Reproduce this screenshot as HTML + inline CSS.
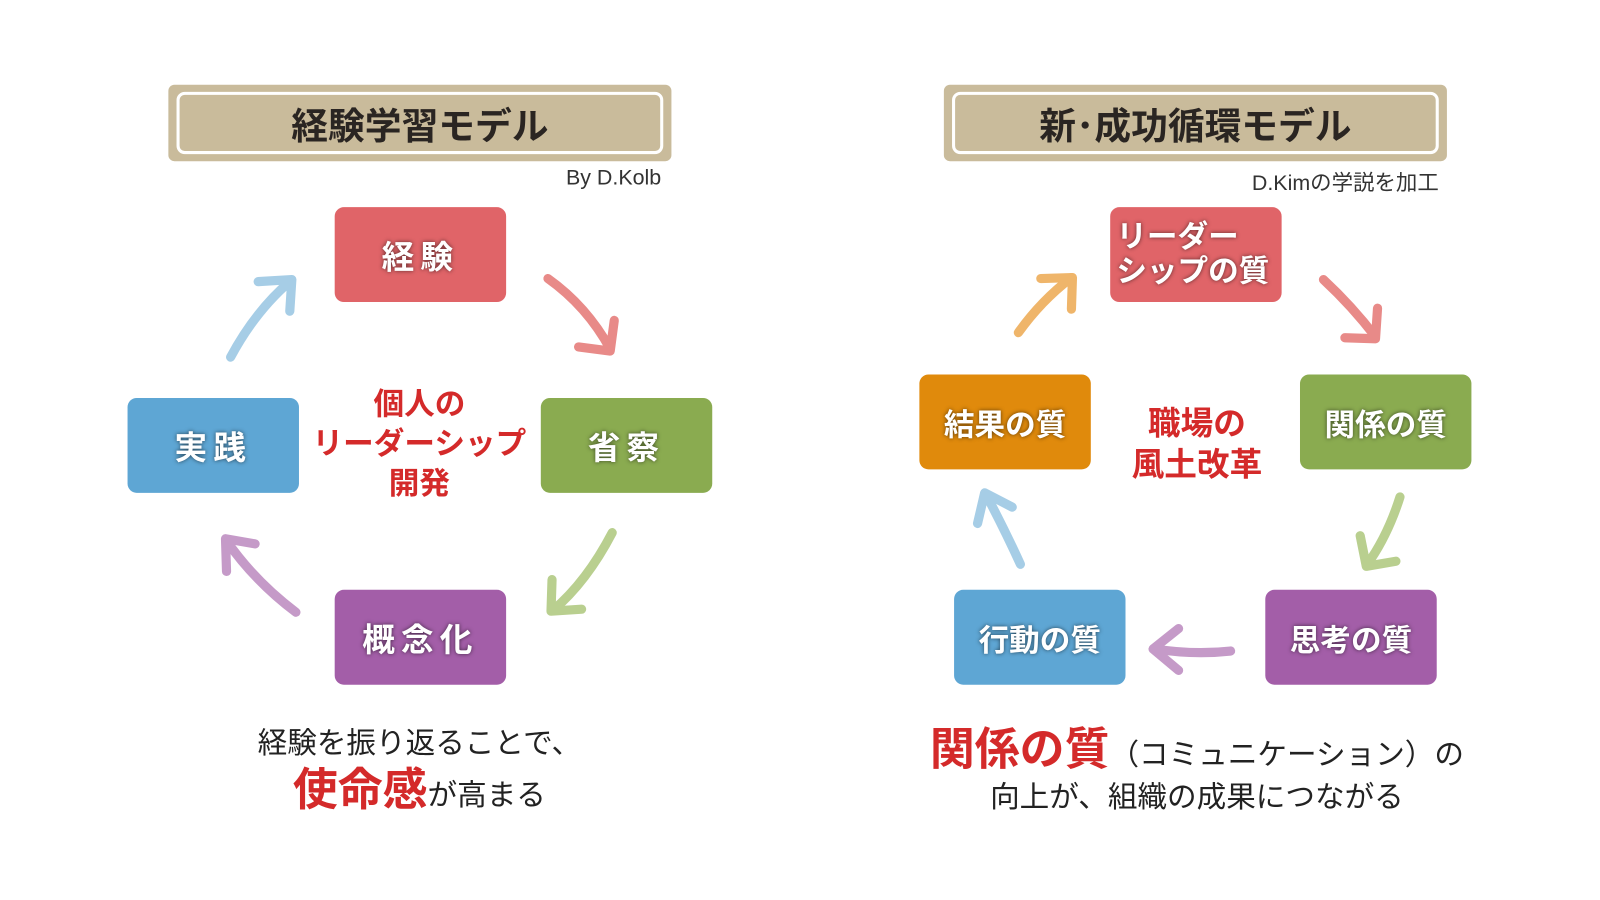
<!DOCTYPE html>
<html><head><meta charset="utf-8"><style>
body{margin:0;width:1600px;height:900px;background:#fff;position:relative;overflow:hidden;font-family:"Liberation Sans","Noto Sans CJK JP",sans-serif}
#w{position:absolute;left:0;top:0;width:1568px;height:882px;transform:scale(1.0204);transform-origin:0 0}
.t{position:absolute;background:#c9bb9b;border-radius:6px}
.t div{position:absolute;left:8px;top:7px;right:8px;bottom:7px;border:3px solid #fff;border-radius:8px;display:flex;align-items:center;justify-content:center;font-size:36px;font-weight:bold;color:#2a2522}
.b{position:absolute;width:168px;height:93px;border-radius:9px;color:#fff;font-weight:bold;font-size:32px;display:flex;align-items:center;justify-content:center;text-shadow:0 0 4px rgba(0,0,0,.6);letter-spacing:6px}
.r{background:#e06468}.g{background:#8aab50}.p{background:#a35ea8}.bl{background:#5ea6d4}.o{background:#e08a0c}
.q{letter-spacing:0;font-size:30px}
.c{position:absolute;color:#d42a2a;font-weight:bold;text-align:center;font-size:30px;line-height:39px}
.s{position:absolute;font-size:21px;color:#333}
.bt{position:absolute;text-align:center;color:#222;font-size:29px}
</style></head><body><div id="w">
<div class="t" style="left:165px;top:83px;width:493px;height:75px"><div>経験学習モデル</div></div>
<div class="t" style="left:925px;top:83px;width:493px;height:75px"><div>新･成功循環モデル</div></div>
<div class="s" style="right:920px;top:163px">By D.Kolb</div>
<div class="s" style="right:158px;top:163px">D.Kimの学説を加工</div>

<div class="b r" style="left:328px;top:203px">経験</div>
<div class="b g" style="left:530px;top:390px">省察</div>
<div class="b p" style="left:328px;top:578px">概念化</div>
<div class="b bl" style="left:125px;top:390px">実践</div>
<div class="c" style="left:290px;width:242px;top:377px">個人の<br>リーダーシップ<br>開発</div>

<div class="b r q" style="left:1088px;top:203px;line-height:34px;justify-content:flex-start;padding-left:6px;width:162px">リーダー<br>シップの質</div>
<div class="b g q" style="left:1274px;top:367px">関係の質</div>
<div class="b p q" style="left:1240px;top:578px">思考の質</div>
<div class="b bl q" style="left:935px;top:578px">行動の質</div>
<div class="b o q" style="left:901px;top:367px">結果の質</div>
<div class="c" style="left:1073px;width:200px;top:395px;font-size:32px;line-height:40px">職場の<br>風土改革</div>

<svg style="position:absolute;left:0;top:0" width="1568" height="882" fill="none" stroke-width="9" stroke-linecap="round" stroke-linejoin="round">
<g stroke="#e88a88"><path d="M537 273 Q575 300 598 342"/><path d="M567 340 L598 344 L602 314"/></g>
<g stroke="#b9cf8f"><path d="M600 522 Q575 570 542 598"/><path d="M541 568 L540 599 L570 597"/></g>
<g stroke="#c59ac8"><path d="M290 600 Q250 570 222 530"/><path d="M222 560 L221 528 L250 533"/></g>
<g stroke="#a6cde6"><path d="M226 350 Q250 305 285 275"/><path d="M253 276 L286 274 L284 305"/></g>
<g stroke="#efb56a"><path d="M998 326 Q1020 295 1050 272"/><path d="M1020 273 L1051 272 L1050 303"/></g>
<g stroke="#e88a88"><path d="M1297 274 Q1325 300 1348 330"/><path d="M1318 331 L1348 332 L1350 302"/></g>
<g stroke="#b9cf8f"><path d="M1372 487 Q1360 525 1340 553"/><path d="M1333 525 L1339 555 L1368 550"/></g>
<g stroke="#c59ac8"><path d="M1206 638 Q1170 642 1132 636"/><path d="M1155 616 L1130 636 L1155 657"/></g>
<g stroke="#a6cde6"><path d="M1000 553 Q985 520 966 484"/><path d="M958 513 L965 483 L992 497"/></g>
</svg>

<div class="bt" style="left:160px;width:502px;top:705px">経験を振り返ることで、</div>
<div class="bt" style="left:160px;width:502px;top:748px;line-height:54px"><span style="color:#d42a2a;font-weight:bold;font-size:44px">使命感</span>が高まる</div>
<div class="bt" style="left:900px;width:546px;top:708px;line-height:54px"><span style="color:#d42a2a;font-weight:bold;font-size:44px">関係の質</span>（コミュニケーション）の</div>
<div class="bt" style="left:900px;width:546px;top:758px">向上が、組織の成果につながる</div>
</div></body></html>
